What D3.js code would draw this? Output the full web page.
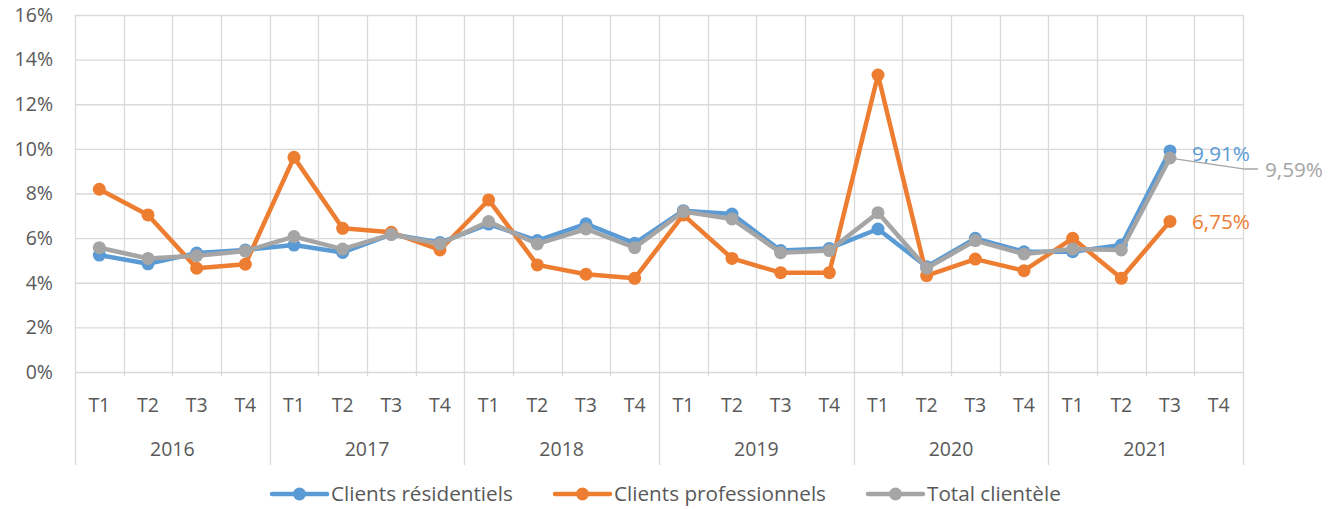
<!DOCTYPE html>
<html>
<head>
<meta charset="utf-8">
<script src="https://cdn.jsdelivr.net/npm/d3@7"></script>
<style>
  body { margin: 0; background: #fff; }
  svg { display: block; font-family: "Open Sans", sans-serif; }
</style>
</head>
<body>
<svg id="chart" width="1335" height="509"></svg>
<script>
let years = ["2016", "2017", "2018", "2019", "2020", "2021"];
let quarters = ["T1", "T2", "T3", "T4"];
let yTicks = [0, 2, 4, 6, 8, 10, 12, 14, 16];

// values in %, null = no data yet
let residentiels = [5.24, 4.85, 5.33, 5.47, 5.69, 5.36, 6.17, 5.80,
  6.63, 5.89, 6.64, 5.77, 7.23, 7.08, 5.44, 5.54,
  6.41, 4.72, 5.99, 5.39, 5.39, 5.69, 9.91, null];
let professionnels = [8.19, 7.04, 4.65, 4.83, 9.62, 6.44, 6.26, 5.47,
  7.71, 4.80, 4.38, 4.20, 7.04, 5.09, 4.45, 4.45,
  13.31, 4.32, 5.06, 4.54, 5.99, 4.20, 6.75, null];
let total = [5.57, 5.09, 5.21, 5.42, 6.07, 5.51, 6.17, 5.74,
  6.74, 5.74, 6.41, 5.57, 7.19, 6.86, 5.35, 5.44,
  7.14, 4.65, 5.89, 5.29, 5.51, 5.47, 9.59, null];

let seriesNames = ["Clients résidentiels", "Clients professionnels", "Total clientèle"];
let seriesValues = [residentiels, professionnels, total];
let colors = ["#5b9bd5", "#ed7d31", "#a5a5a5"];

let categories = [];
years.forEach(function(yr) {
  quarters.forEach(function(q) { categories.push(yr + "-" + q); });
});

let margin = {top: 15, left: 75, right: 92, bottom: 137};
let width = 1335 - margin.left - margin.right;
let height = 509 - margin.top - margin.bottom;
let textColor = "#595959";
let gridColor = "#d9d9d9";
let fs = 19.5;
let fsBig = 20.7;

let svg = d3.select("#chart");
let g = svg.append("g")
  .attr("transform", "translate(" + margin.left + "," + margin.top + ")");

let x = d3.scaleBand().domain(categories).range([0, width]);
let y = d3.scaleLinear().domain([0, 16]).range([height, 0]);

// horizontal grid
g.selectAll(".hgrid").data(yTicks).enter().append("line")
  .attr("x1", 0).attr("x2", width)
  .attr("y1", function(d) { return y(d) + 0.5; })
  .attr("y2", function(d) { return y(d) + 0.5; })
  .attr("stroke", gridColor).attr("stroke-width", 1.3);

// vertical grid (between categories)
let edges = categories.map(function(c) { return x(c); }).concat([width]);
g.selectAll(".vgrid").data(edges).enter().append("line")
  .attr("x1", function(d) { return Math.round(d) + 0.5; })
  .attr("x2", function(d) { return Math.round(d) + 0.5; })
  .attr("y1", 0)
  .attr("y2", function(d, i) { return i % 4 == 0 ? height + 93 : height + 4; })
  .attr("stroke", gridColor).attr("stroke-width", 1.3);

// y axis labels
g.selectAll(".ylab").data(yTicks).enter().append("text")
  .attr("x", -22).attr("y", function(d) { return y(d); })
  .attr("dy", "0.35em").attr("text-anchor", "end")
  .attr("fill", textColor).attr("font-size", fs)
  .text(function(d) { return d + "%"; });

// quarter labels
g.selectAll(".qlab").data(categories).enter().append("text")
  .attr("x", function(d) { return x(d) + x.bandwidth() / 2; })
  .attr("y", height + 33).attr("dy", "0.35em")
  .attr("text-anchor", "middle")
  .attr("fill", textColor).attr("font-size", fs)
  .text(function(d) { return d.split("-")[1]; });

// year labels
g.selectAll(".ylab2").data(years).enter().append("text")
  .attr("x", function(d) { return x(d + "-T2") + x.bandwidth(); })
  .attr("y", height + 77).attr("dy", "0.35em")
  .attr("text-anchor", "middle")
  .attr("fill", textColor).attr("font-size", fs)
  .text(function(d) { return d; });

// lines
let line = d3.line()
  .defined(function(d) { return d != null; })
  .x(function(d, i) { return x(categories[i]) + x.bandwidth() / 2; })
  .y(function(d) { return y(d); });

seriesValues.forEach(function(vals, s) {
  g.append("path").attr("d", line(vals))
    .attr("fill", "none")
    .attr("stroke", colors[s])
    .attr("stroke-width", 4.5)
    .attr("stroke-linejoin", "round");
  g.selectAll(".pt" + s).data(vals.map(function(v, i) { return {v: v, i: i}; })
      .filter(function(d) { return d.v != null; }))
    .enter().append("circle")
    .attr("cx", function(d) { return x(categories[d.i]) + x.bandwidth() / 2; })
    .attr("cy", function(d) { return y(d.v); })
    .attr("r", 6.5)
    .attr("fill", colors[s]);
});

// data labels on last point
let lastIdx = 22;
let cxLast = x(categories[lastIdx]) + x.bandwidth() / 2;
function fmt(v) { return v.toFixed(2).replace(".", ",") + "%"; }

g.append("text").attr("x", cxLast + 22).attr("y", y(residentiels[lastIdx]) + 3)
  .attr("dy", "0.35em").attr("fill", colors[0]).attr("font-size", fsBig)
  .text(fmt(residentiels[lastIdx]));
g.append("text").attr("x", cxLast + 22).attr("y", y(professionnels[lastIdx]))
  .attr("dy", "0.35em").attr("fill", colors[1]).attr("font-size", fsBig)
  .text(fmt(professionnels[lastIdx]));
let grayLabelY = y(total[lastIdx]) + 12;
g.append("path")
  .attr("d", "M" + cxLast + "," + y(total[lastIdx]) +
    "L" + (cxLast + 75) + "," + (grayLabelY - 1) + "L" + (cxLast + 88) + "," + (grayLabelY - 1))
  .attr("fill", "none").attr("stroke", colors[2]).attr("stroke-width", 1.3);
g.append("text").attr("x", cxLast + 95).attr("y", grayLabelY)
  .attr("dy", "0.35em").attr("fill", colors[2]).attr("font-size", fsBig)
  .text(fmt(total[lastIdx]));

// legend
let legendX = [272, 555, 868];
let legend = svg.append("g");
seriesNames.forEach(function(name, s) {
  let lg = legend.append("g").attr("transform", "translate(" + legendX[s] + ",494)");
  lg.append("line").attr("x1", 0).attr("x2", 55).attr("y1", 0).attr("y2", 0)
    .attr("stroke", colors[s]).attr("stroke-width", 4.5).attr("stroke-linecap", "round");
  lg.append("circle").attr("cx", 27.5).attr("cy", 0).attr("r", 6.5).attr("fill", colors[s]);
  lg.append("text").attr("x", 59).attr("y", 0).attr("dy", "0.35em")
    .attr("fill", textColor).attr("font-size", fsBig).text(name);
});
</script>
</body>
</html>
